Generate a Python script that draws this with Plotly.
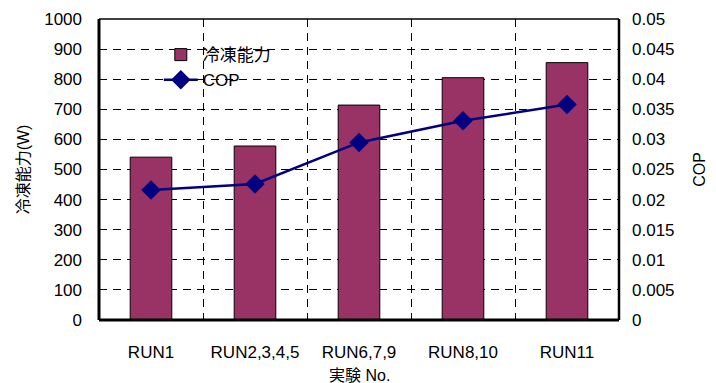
import plotly.graph_objects as go

categories = ["RUN1", "RUN2,3,4,5", "RUN6,7,9", "RUN8,10", "RUN11"]
capacity_w = [541, 578, 714, 805, 855]
cop = [0.0216, 0.0226, 0.0295, 0.0331, 0.0358]

font_family = "Liberation Sans, Arial, Noto Sans CJK JP, sans-serif"

fig = go.Figure()
fig.add_trace(go.Bar(
    x=categories, y=capacity_w, name="冷凍能力",
    marker=dict(color="#993366", line=dict(color="black", width=1)),
    width=0.4,
))
fig.add_trace(go.Scatter(
    x=categories, y=cop, name="COP", yaxis="y2",
    mode="lines+markers",
    line=dict(color="#000080", width=2.5),
    marker=dict(symbol="diamond", size=15, color="#000080"),
))

fig.update_layout(
    width=716, height=383,
    margin=dict(l=99, r=97, t=19, b=63),
    paper_bgcolor="white", plot_bgcolor="white",
    font=dict(family=font_family, size=17, color="black"),
    showlegend=True,
    legend=dict(x=0.115, y=0.94, xanchor="left", yanchor="top",
                bgcolor="rgba(0,0,0,0)", font=dict(size=17),
                itemwidth=34, tracegroupgap=8),
    xaxis=dict(
        type="category", tickson="boundaries", ticks="",
        showgrid=True, gridcolor="black", griddash="8px,6px", gridwidth=1,
        showline=False, zeroline=False, automargin=False,
        ticklabelstandoff=20,
    ),
    yaxis=dict(
        range=[0, 1000], dtick=100, ticks="",
        showgrid=True, gridcolor="black", griddash="8px,6px", gridwidth=1,
        zeroline=False, showline=False, automargin=False,
        title=dict(text="冷凍能力(W)", standoff=10, font=dict(size=16)),
        ticklabelstandoff=16,
    ),
    yaxis2=dict(
        overlaying="y", side="right", range=[0, 0.05], dtick=0.005,
        ticks="", showgrid=False, zeroline=False, showline=False, automargin=False,
        title=dict(text="COP", standoff=20, font=dict(size=16)),
        ticklabelstandoff=12,
    ),
    annotations=[
        dict(text="実験 No.", xref="paper", yref="paper", x=0.5, y=-0.186,
             xanchor="center", yanchor="middle", showarrow=False,
             font=dict(size=16)),
    ],
    shapes=[
        dict(type="line", xref="paper", yref="paper", x0=0, x1=1, y0=1, y1=1,
             line=dict(color="black", width=1.5)),
        dict(type="line", xref="paper", yref="paper", x0=0, x1=0, y0=0, y1=1,
             line=dict(color="black", width=3)),
        dict(type="line", xref="paper", yref="paper", x0=1, x1=1, y0=0, y1=1,
             line=dict(color="black", width=2.5)),
        dict(type="line", xref="paper", yref="paper", x0=0, x1=1, y0=0, y1=0,
             line=dict(color="black", width=3)),
    ],
)

fig.write_html("out.html")
